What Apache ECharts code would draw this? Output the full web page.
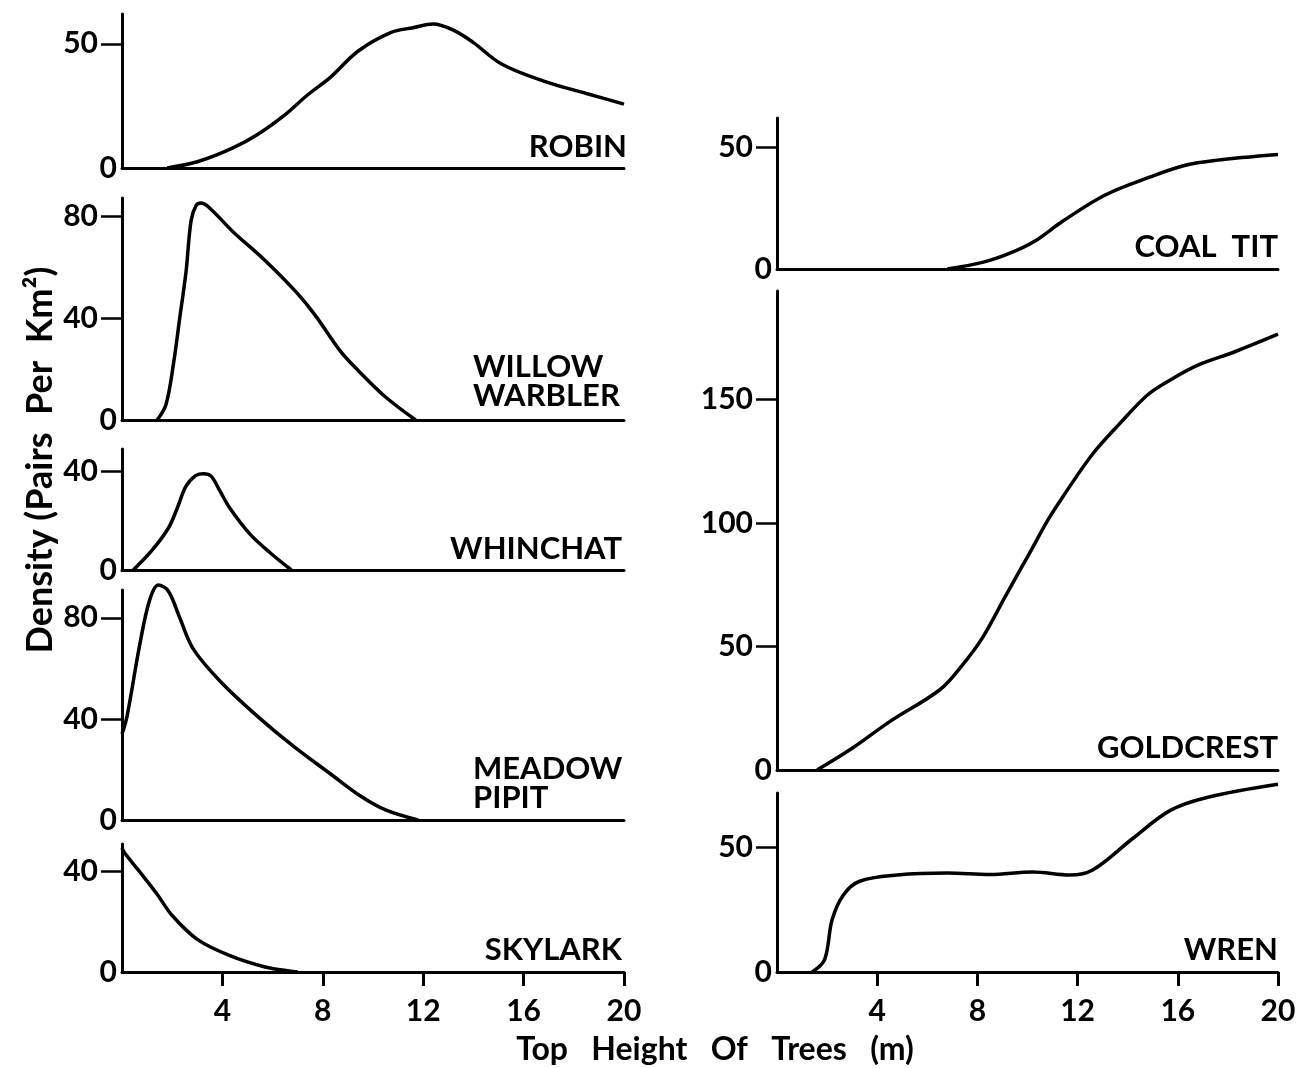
<!DOCTYPE html>
<html>
<head>
<meta charset="utf-8">
<script src="https://cdn.jsdelivr.net/npm/echarts@6/dist/echarts.min.js"></script>
<style>html,body{margin:0;padding:0;background:#fff;}#c{width:1299px;height:1068px;}</style>
</head>
<body>
<div id="c"></div>
<script>
// ---- data: [top height of trees (m), density (pairs per km2)] ----
const robin = [[1.8,0],[3,2.5],[4.4,8],[5.4,13.5],[6.5,21.5],[7.4,29.5],[8.3,36.5],[9.4,47],[10.7,54.5],[11.6,56.5],[12.4,58],[13.2,55.5],[14,50.5],[15.1,42],[16.8,35],[18.5,30],[20,25.7]];
const willowWarbler = [[1.4,0],[1.75,6],[2.05,22],[2.3,40],[2.55,58],[2.75,78],[2.95,84],[3.15,85],[3.5,83],[4.4,74],[5.7,62.5],[6.95,50],[7.7,41],[8.7,27],[9.4,19.5],[10.5,9],[11.7,0]];
const whinchat = [[0.45,0],[1.2,8],[1.85,17],[2.2,25],[2.55,34],[2.95,38.3],[3.25,39],[3.55,38],[3.9,32],[4.3,25],[5.1,14.5],[5.9,7],[6.75,0]];
const meadowPipit = [[0,34],[0.2,41],[0.7,69],[1.1,87],[1.45,93],[1.85,90.5],[2.3,80],[2.85,67.5],[3.95,54.5],[5.4,41],[6.85,29],[8.3,18.3],[9.5,9.5],[10.5,4],[11.8,0]];
const skylark = [[0,49.5],[0.1,47.5],[0.7,40],[1.4,31],[2,22.5],[3,13],[4.3,6.5],[5.7,2],[6.8,0.2],[7.0,0]];
const coalTit = [[6.8,0],[8.2,2.7],[9.3,6.5],[10.3,11.5],[11.4,19.6],[13.1,30.4],[14.9,37.8],[16.3,42.6],[17.5,44.6],[20,47]];
const goldcrest = [[1.6,0],[3,8.8],[4.5,19.6],[6.5,32.5],[7.4,42.5],[8.2,53.5],[9.1,70],[10.2,90],[10.8,101],[11.4,110.5],[12.6,128],[13.7,140.5],[14.8,152],[15.7,158],[16.8,164],[18.3,169.5],[20,176.5]];
const wren = [[1.4,0],[1.9,5],[2.2,21],[2.65,31],[3.3,36.5],[4.8,39],[6.8,39.8],[8.5,39.2],[10.2,40.2],[11.7,39],[12.6,41],[14.2,53.7],[15.7,65],[17.2,70.3],[20,75.5]];

const xTicks = [4, 8, 12, 16, 20];
const robinTicks = [0, 50];
const willowTicks = [0, 40, 80];
const whinchatTicks = [0, 40];
const pipitTicks = [0, 40, 80];
const skylarkTicks = [0, 40];
const coalTitTicks = [0, 50];
const goldcrestTicks = [0, 50, 100, 150];
const wrenTicks = [0, 50];

const speciesNames = ['ROBIN','WILLOW\nWARBLER','WHINCHAT','MEADOW\nPIPIT','SKYLARK','COAL  TIT','GOLDCREST','WREN'];
const xTitle = 'Top   Height   Of   Trees   (m)';
const yTitle = 'Density (Pairs  Per  Km²)';

// ---- layout ----
const FONT = 'Lato, "Open Sans", sans-serif';
const panels = [
  {data: robin,         ticks: robinTicks,     max: 62,  grid: {left:122, width:502, top:14,  height:154}, bottomAxis:false},
  {data: willowWarbler, ticks: willowTicks,    max: 87,  grid: {left:122, width:502, top:198, height:222}, bottomAxis:false},
  {data: whinchat,      ticks: whinchatTicks,  max: 49,  grid: {left:122, width:502, top:449, height:121}, bottomAxis:false},
  {data: meadowPipit,   ticks: pipitTicks,     max: 91,  grid: {left:122, width:502, top:590, height:230}, bottomAxis:false},
  {data: skylark,       ticks: skylarkTicks,   max: 51,  grid: {left:122, width:502, top:844, height:128}, bottomAxis:true},
  {data: coalTit,       ticks: coalTitTicks,   max: 62,  grid: {left:777, width:501, top:118, height:151}, bottomAxis:false},
  {data: goldcrest,     ticks: goldcrestTicks, max: 194, grid: {left:777, width:501, top:291, height:479}, bottomAxis:false},
  {data: wren,          ticks: wrenTicks,      max: 72,  grid: {left:777, width:501, top:793, height:179}, bottomAxis:true}
];

const labelStyle = {fontFamily: FONT, fontSize: 30, fontWeight: 'bold', color: '#000'};
const SP = 'bold 31px ' + FONT;

const option = {
  backgroundColor: '#fff',
  animation: false,
  grid: panels.map(p => Object.assign({containLabel:false, outerBoundsMode:'none'}, p.grid)),
  xAxis: panels.map((p, i) => ({
    type: 'value', gridIndex: i, min: 0, max: 20,
    splitLine: {show:false},
    axisLine: {show:true, onZero:false, lineStyle:{color:'#000', width:3}},
    axisTick: {show: p.bottomAxis, customValues: xTicks, length: 14, lineStyle:{color:'#000', width:3}},
    axisLabel: {show: p.bottomAxis, customValues: xTicks, margin: 24, fontFamily: FONT, fontSize: 30, fontWeight:'bold', color:'#000'}
  })),
  yAxis: panels.map((p, i) => ({
    type: 'value', gridIndex: i, min: 0, max: p.max,
    splitLine: {show:false},
    axisLine: {show:true, onZero:false, lineStyle:{color:'#000', width:3}},
    axisTick: {show:true, customValues: p.ticks.filter(v => v !== 0), length: 21, lineStyle:{color:'#000', width:2.5}},
    axisLabel: {
      show:true, customValues: p.ticks, margin: 5,
      formatter: v => v === 0 ? '{z|0}' : '{n|' + v + '}',
      rich: {
        z: Object.assign({}, labelStyle),
        n: Object.assign({padding:[0,19,0,0]}, labelStyle)
      }
    }
  })),
  series: panels.map((p, i) => ({
    type: 'line', xAxisIndex: i, yAxisIndex: i,
    data: p.data, smooth: 0.35, symbol: 'none', clip: false,
    lineStyle: {color:'#000', width:3.5}
  })),
  graphic: [
    {type:'text', x:627, y:147, style:{text:speciesNames[0], font:SP, fill:'#000', align:'right', verticalAlign:'middle'}},
    {type:'text', x:473, y:381, style:{text:speciesNames[1], font:SP, lineHeight:29, fill:'#000', align:'left', verticalAlign:'middle'}},
    {type:'text', x:622, y:549, style:{text:speciesNames[2], font:SP, fill:'#000', align:'right', verticalAlign:'middle'}},
    {type:'text', x:473, y:783, style:{text:speciesNames[3], font:SP, lineHeight:29, fill:'#000', align:'left', verticalAlign:'middle'}},
    {type:'text', x:622, y:950, style:{text:speciesNames[4], font:SP, fill:'#000', align:'right', verticalAlign:'middle'}},
    {type:'text', x:1278, y:247, style:{text:speciesNames[5], font:SP, fill:'#000', align:'right', verticalAlign:'middle'}},
    {type:'text', x:1278, y:748, style:{text:speciesNames[6], font:SP, fill:'#000', align:'right', verticalAlign:'middle'}},
    {type:'text', x:1278, y:950, style:{text:speciesNames[7], font:SP, fill:'#000', align:'right', verticalAlign:'middle'}},
    {type:'text', x:715, y:1050, style:{text:xTitle, font:'bold 32px '+FONT, fill:'#000', align:'center', verticalAlign:'middle'}},
    {type:'text', x:40, y:460, rotation:Math.PI/2, style:{text:yTitle, font:'bold 36px '+FONT, fill:'#000', align:'center', verticalAlign:'middle'}}
  ]
};

const chart = echarts.init(document.getElementById('c'), null, {renderer:'canvas'});
chart.setOption(option);
</script>
</body>
</html>
